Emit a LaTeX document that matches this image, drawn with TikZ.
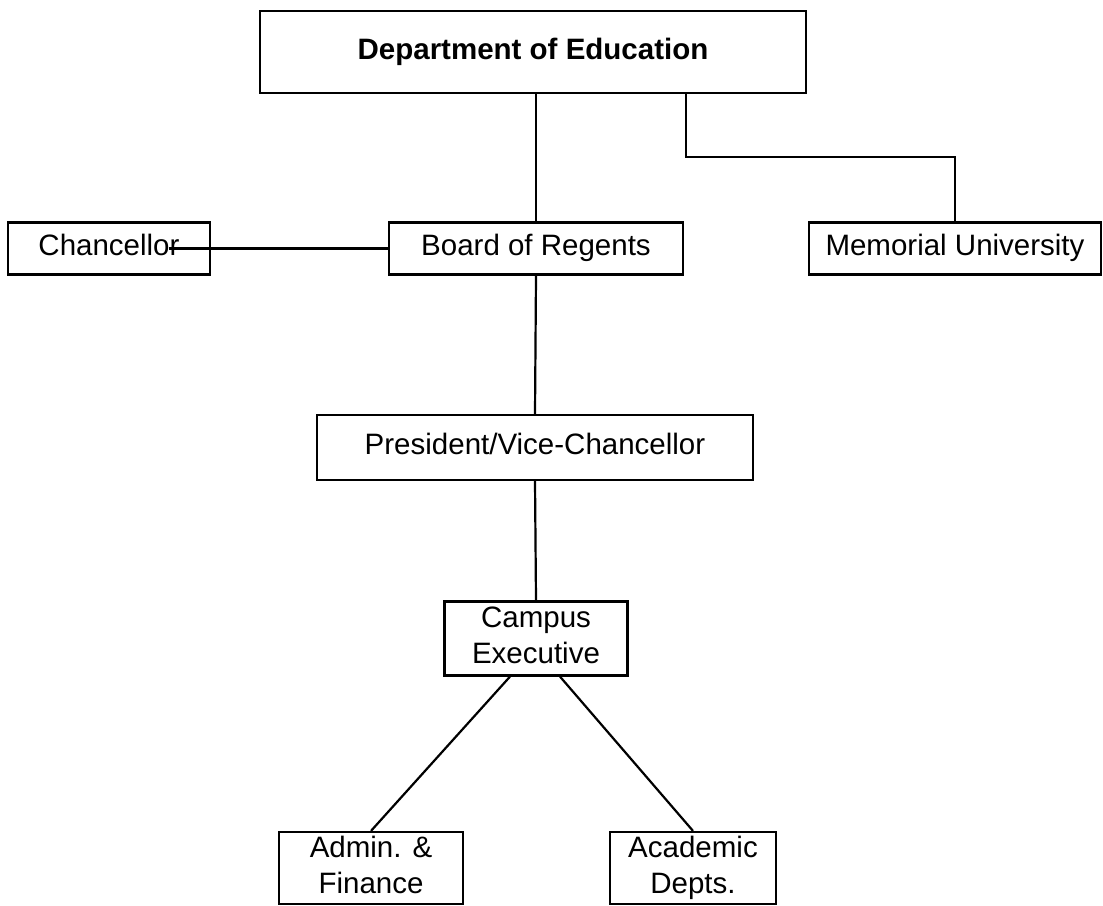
\documentclass[tikz,border=0pt]{standalone}
\usepackage{fontspec}
\setmainfont{Liberation Sans}
\begin{document}
\begin{tikzpicture}[x=1pt,y=-1pt,
  orgbox/.style={draw=black, line width=2.2pt, fill=white, inner sep=0pt,
    align=center, font=\fontsize{29.5}{36}\selectfont},
  link/.style={draw=black, line width=2.2pt}]
\useasboundingbox[fill=white] (0,0) rectangle (1103,905);

% boxes of the organisation chart (struts keep every line on the same baseline grid)
\node[orgbox, minimum width=546, minimum height=82, font=\fontsize{29.5}{36}\selectfont\bfseries]
  (dept) at (533,52) {Department of Education\strut};
\node[orgbox, minimum width=202, minimum height=52] (chan) at (109,248.5) {Chancellor\strut};
\node[orgbox, minimum width=294, minimum height=52] (board) at (536,248.5) {Board of Regents\strut};
\node[orgbox, minimum width=292, minimum height=52] (mem) at (955,248.5) {Memorial University\strut};
\node[orgbox, minimum width=436, minimum height=65] (pres) at (535,447.5) {President/Vice-Chancellor\strut};
\node[orgbox, minimum width=183, minimum height=74] (camp) at (536,638.5) {Campus\strut\\Executive\strut};
\node[orgbox, minimum width=184, minimum height=70] (admin) at (371,868) {Admin. \&\strut\\Finance\strut};
\node[orgbox, minimum width=166, minimum height=70] (acad) at (693,868) {Academic\strut\\Depts.\strut};

% helper points for the elbow and the overlapping link
\coordinate (split) at (686,157);
\coordinate (chanend) at (169,248.5);

% connectors
\draw[link] (dept.south -| board.north) -- (board.north);
\draw[link] (dept.south -| split) -- (split) -| (mem.north);
\draw[link] (board.west) -- (chanend);
\draw[link] (board.south) -- (pres.north);
\draw[link] (pres.south) -- (camp.north);
\draw[link] ([xshift=-26pt]camp.south) -- (admin.north);
\draw[link] ([xshift=24pt]camp.south) -- (acad.north);
\end{tikzpicture}
\end{document}
